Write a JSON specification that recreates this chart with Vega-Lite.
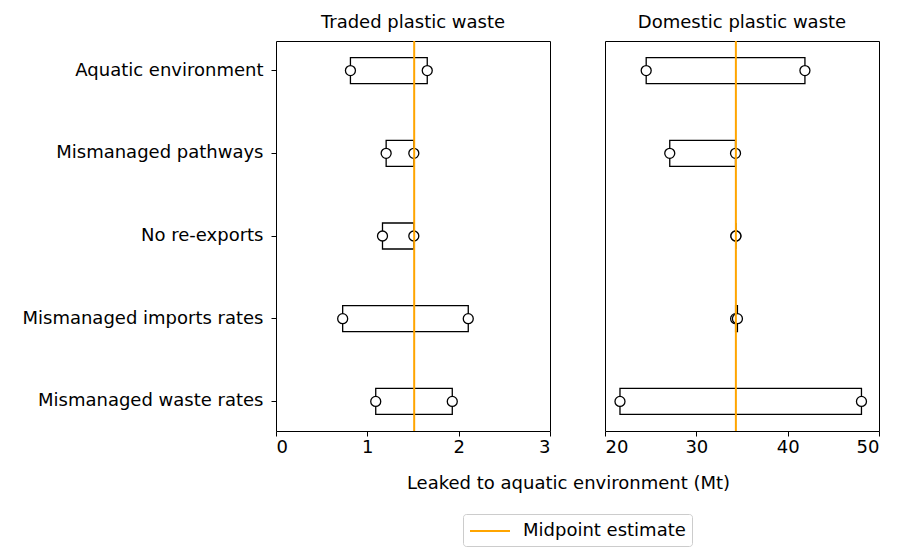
{
  "$schema": "https://vega.github.io/schema/vega-lite/v6.json",
  "background": "white",
  "padding": {"left": 5, "top": 13, "right": 10, "bottom": 5},
  "bounds": "flush",
  "config": {
    "font": "DejaVu Sans",
    "view": {"stroke": "black", "strokeWidth": 1},
    "axis": {"grid": false, "domain": false, "tickColor": "black", "tickSize": 5, "labelColor": "black", "labelFontSize": 18, "labelLimit": 400, "labelFont": "DejaVu Sans", "titleFont": "DejaVu Sans", "titleFontWeight": "normal", "titleFontSize": 18, "titleColor": "black"},
    "title": {"font": "DejaVu Sans", "fontSize": 18, "fontWeight": "normal", "color": "black", "offset": 8},
    "legend": {"labelFont": "DejaVu Sans", "labelFontSize": 18, "labelColor": "black", "labelLimit": 400}
  },
  "datasets": {
    "ranges": [
      {"panel": "Traded", "category": "Aquatic environment", "low": 0.815, "high": 1.656},
      {"panel": "Traded", "category": "Mismanaged pathways", "low": 1.206, "high": 1.509},
      {"panel": "Traded", "category": "No re-exports", "low": 1.166, "high": 1.509},
      {"panel": "Traded", "category": "Mismanaged imports rates", "low": 0.73, "high": 2.105},
      {"panel": "Traded", "category": "Mismanaged waste rates", "low": 1.092, "high": 1.93},
      {"panel": "Domestic", "category": "Aquatic environment", "low": 24.51, "high": 41.89},
      {"panel": "Domestic", "category": "Mismanaged pathways", "low": 27.09, "high": 34.29},
      {"panel": "Domestic", "category": "No re-exports", "low": 34.33, "high": 34.33},
      {"panel": "Domestic", "category": "Mismanaged imports rates", "low": 34.3, "high": 34.5},
      {"panel": "Domestic", "category": "Mismanaged waste rates", "low": 21.64, "high": 48.08}
    ],
    "midpoints": [
      {"panel": "Traded", "value": 1.513, "series": "Midpoint estimate"},
      {"panel": "Domestic", "value": 34.33, "series": "Midpoint estimate"}
    ]
  },
  "hconcat": [
    {
      "width": 274,
      "height": 390,
      "title": {"text": "Traded plastic waste"},
      "layer": [
        {
          "data": {"name": "ranges"},
          "transform": [{"filter": "datum.panel === 'Traded'"}],
          "mark": {"type": "bar", "fill": "white", "stroke": "black", "strokeWidth": 1.3},
          "encoding": {
            "y": {"field": "category", "type": "nominal", "sort": null, "title": null,
                  "scale": {"paddingInner": 0.6855, "paddingOuter": 0.2008},
                  "axis": {"minExtent": 270, "maxExtent": 270, "labelPadding": 8}},
            "x": {"field": "low", "type": "quantitative", "scale": {"domain": [0, 3], "nice": false},
                  "axis": {"values": [0, 1, 2, 3], "format": "~g", "title": "Leaked to aquatic environment (Mt)", "titleX": 292, "titleY": 43}},
            "x2": {"field": "high"}
          }
        },
        {
          "data": {"name": "ranges"},
          "transform": [{"filter": "datum.panel === 'Traded'"}, {"fold": ["low", "high"], "as": ["end", "v"]}],
          "mark": {"type": "point", "shape": "circle", "filled": false, "fill": "white", "fillOpacity": 1, "stroke": "black", "strokeWidth": 1.3, "opacity": 1, "size": 100},
          "encoding": {
            "y": {"field": "category", "type": "nominal", "sort": null},
            "x": {"field": "v", "type": "quantitative"}
          }
        },
        {
          "data": {"name": "midpoints"},
          "transform": [{"filter": "datum.panel === 'Traded'"}],
          "mark": {"type": "rule", "strokeWidth": 2},
          "encoding": {
            "x": {"field": "value", "type": "quantitative"},
            "color": {"field": "series", "type": "nominal", "scale": {"domain": ["Midpoint estimate"], "range": ["#FFA500"]},
                      "legend": {"title": null, "orient": "none", "legendX": 187, "legendY": 473, "symbolType": "M-1,0H3", "symbolSize": 400, "symbolStrokeWidth": 2, "symbolStrokeColor": "#FFA500", "strokeColor": "#cccccc", "cornerRadius": 3, "padding": 6, "labelOffset": 32}}
          }
        }
      ]
    },
    {
      "width": 274,
      "height": 390,
      "title": {"text": "Domestic plastic waste"},
      "layer": [
        {
          "data": {"name": "ranges"},
          "transform": [{"filter": "datum.panel === 'Domestic'"}],
          "mark": {"type": "bar", "fill": "white", "stroke": "black", "strokeWidth": 1.3},
          "encoding": {
            "y": {"field": "category", "type": "nominal", "sort": null, "title": null,
                  "scale": {"paddingInner": 0.6855, "paddingOuter": 0.2008}, "axis": null},
            "x": {"field": "low", "type": "quantitative", "scale": {"domain": [20, 50], "nice": false},
                  "axis": {"values": [20, 30, 40, 50], "title": null}},
            "x2": {"field": "high"}
          }
        },
        {
          "data": {"name": "ranges"},
          "transform": [{"filter": "datum.panel === 'Domestic'"}, {"fold": ["low", "high"], "as": ["end", "v"]}],
          "mark": {"type": "point", "shape": "circle", "filled": false, "fill": "white", "fillOpacity": 1, "stroke": "black", "strokeWidth": 1.3, "opacity": 1, "size": 100},
          "encoding": {
            "y": {"field": "category", "type": "nominal", "sort": null},
            "x": {"field": "v", "type": "quantitative"}
          }
        },
        {
          "data": {"name": "midpoints"},
          "transform": [{"filter": "datum.panel === 'Domestic'"}],
          "mark": {"type": "rule", "strokeWidth": 2},
          "encoding": {
            "x": {"field": "value", "type": "quantitative"},
            "color": {"field": "series", "type": "nominal"}
          }
        }
      ]
    }
  ],
  "spacing": 55
}
